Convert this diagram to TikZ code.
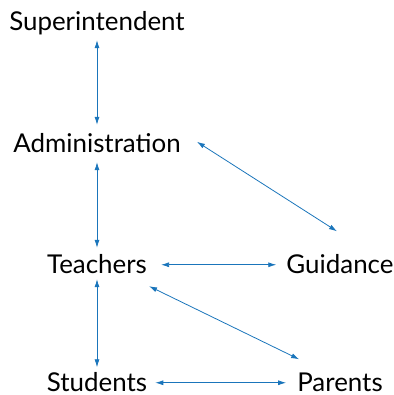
\documentclass[tikz,border=0pt]{standalone}
\usepackage{fontspec}
\setmainfont{Lato}
\usepackage{tikz}
\usetikzlibrary{arrows.meta}
\definecolor{linkblue}{HTML}{1A75BB}

\begin{document}
\begin{tikzpicture}[x=1bp, y=-1bp,
  every node/.style={font=\fontsize{26}{30}\selectfont, inner sep=0pt,
    text height=18.5bp, text depth=2bp, anchor=base},
  link/.style={linkblue, thick, {Latex[length=8bp,width=5bp]}-{Latex[length=8bp,width=5bp]}}]
\useasboundingbox (0,0) rectangle (394,395);

% --- the roles ---
\node (sup) at (97,30)  {Superintendent};
\node (adm) at (97,152) {Administration};
\node (tea) at (97,273) {Teachers};
\node (gui) at (340,273) {Guidance};
\node (stu) at (97,391) {Students};
\node (par) at (340,391) {Parents};

% --- the links ---
\draw[link] ([yshift=-8bp]sup.south) -- ([yshift=8.5bp]adm.north);
\draw[link] ([yshift=-8bp]adm.south) -- ([yshift=6.5bp]tea.north);
\draw[link] ([yshift=-4bp]tea.south) -- ([yshift=5bp]stu.north);
\draw[link] ([xshift=14bp]tea.east) -- ([xshift=-10bp]gui.west);
\draw[link] ([xshift=8bp]stu.east) -- ([xshift=-11bp]par.west);
\draw[link] ([xshift=16bp,yshift=2bp]adm.east) -- ([xshift=-3bp,yshift=23bp]gui.north);
\draw[link] ([xshift=2bp,yshift=-11bp]tea.south east) -- ([xshift=2bp,yshift=13bp]par.north west);
\end{tikzpicture}
\end{document}
